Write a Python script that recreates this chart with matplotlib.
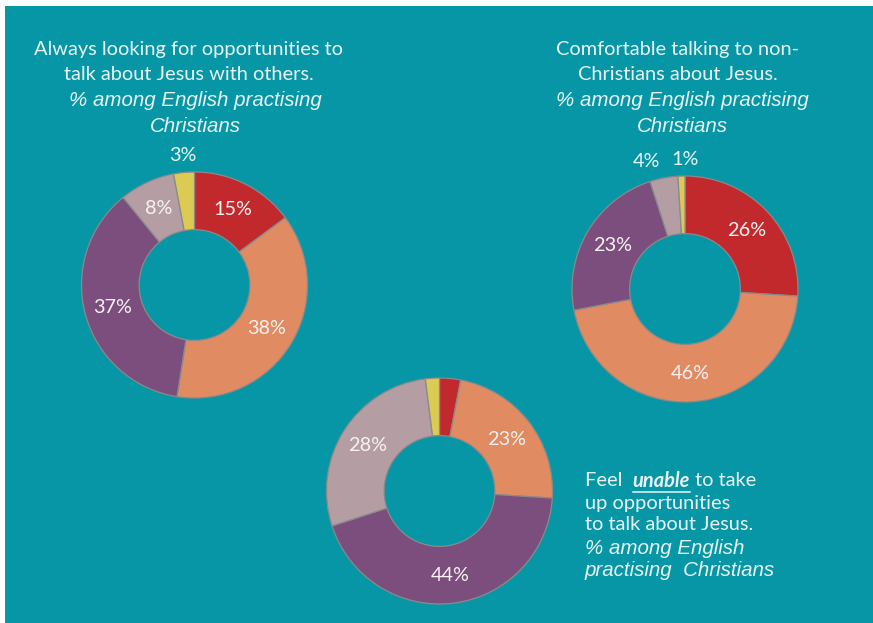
import matplotlib
matplotlib.use("Agg")
import matplotlib.pyplot as plt
import numpy as np
from matplotlib.patches import Rectangle

# ---------------- data ----------------
segments = ["Strongly agree", "Tend to agree", "Tend to disagree", "Strongly disagree", "Don't know"]
always_looking = [15, 38, 37, 8, 3]
comfortable = [26, 46, 23, 4, 1]
unable = [3, 23, 44, 28, 2]
label_always = ["15%", "38%", "37%", "8%", "3%"]
label_comfortable = ["26%", "46%", "23%", "4%", "1%"]
label_unable = ["", "23%", "44%", "28%", ""]

title1 = ["Always looking for opportunities to", "talk about Jesus with others."]
title2 = ["Comfortable talking to non-", "Christians about Jesus."]
subtitle = ["% among English practising", "Christians"]
title3_lines = ["up opportunities", "to talk about Jesus."]
subtitle3 = ["% among English", "practising  Christians"]

# ---------------- style ----------------
W, H = 873, 623
TEAL = "#0796A6"
COLORS = ["#C1292D", "#E08B62", "#7C4E7E", "#B49EA3", "#DCCB52"]
EDGE = "#8a8a8a"
TXT = "#E8F4F4"

fig = plt.figure(figsize=(W / 100, H / 100), dpi=100)
fig.patch.set_facecolor("white")
ax = fig.add_axes([0, 0, 1, 1])
ax.set_axis_off()

ax.add_patch(Rectangle((5, 0), W - 5, H - 6, facecolor=TEAL, edgecolor="none", zorder=0))


def Y(y):
    return H - y


R = 113
donuts = [
    (always_looking, label_always, (194.5, 285), {4: (0, 0)}),
    (comfortable, label_comfortable, (685, 289), {3: (-14, 0), 4: (4, 0)}),
    (unable, label_unable, (439.5, 491), {}),
]

for vals, labs, (cx, cy), nudges in donuts:
    wedges, _ = ax.pie(vals, colors=COLORS, startangle=90, counterclock=False,
                       radius=R, center=(cx, Y(cy)),
                       wedgeprops=dict(width=R * 0.51, edgecolor=EDGE, linewidth=0.9))
    total = sum(vals)
    cum = 0
    for i, v in enumerate(vals):
        mid = 90 - (cum + v / 2) / total * 360
        cum += v
        if not labs[i]:
            continue
        small = v / total < 0.05
        r = R * (1.15 if small else 0.75)
        dx, dy = nudges.get(i, (0, 0))
        x = cx + r * np.cos(np.radians(mid)) + dx
        y = Y(cy) + r * np.sin(np.radians(mid)) + dy
        ax.text(x, y, labs[i], ha="center", va="center", fontsize=14.3,
                family="Lato", color="#F7F2F2" if not small else TXT)

ax.set_xlim(0, W)
ax.set_ylim(0, H)
ax.set_aspect("auto")

REG = dict(family="Lato", fontsize=14.4, color=TXT)
ITA = dict(family="Liberation Sans", style="italic", fontsize=14.8, color=TXT)

# title 1
for t, y in zip(title1, [49, 74]):
    ax.text(189, Y(y), t, ha="center", va="center", **REG)
for t, y in zip(subtitle, [101, 127]):
    ax.text(195, Y(y), t, ha="center", va="center", **ITA)
# title 2
for t, y in zip(title2, [49, 74]):
    ax.text(678, Y(y), t, ha="center", va="center", **REG)
for t, y in zip(subtitle, [101, 127]):
    ax.text(682, Y(y), t, ha="center", va="center", **ITA)

# title 3 with emphasized word
fig.canvas.draw()
renderer = fig.canvas.get_renderer()
inv = ax.transData.inverted()
t1 = ax.text(585, Y(481), "Feel  ", ha="left", va="center", **REG)
bb = t1.get_window_extent(renderer)
x1 = inv.transform((bb.x1, 0))[0]
t2 = ax.text(x1, Y(481), "unable", ha="left", va="center", family="Lato",
             fontsize=14.4, color=TXT, style="italic", weight="bold")
bb2 = t2.get_window_extent(renderer)
x2 = inv.transform((bb2.x1, 0))[0]
ax.plot([x1, x2], [Y(492), Y(492)], color=TXT, lw=1.1)
ax.text(x2, Y(481), " to take", ha="left", va="center", **REG)
for t, y in zip(title3_lines, [503, 525]):
    ax.text(585, Y(y), t, ha="left", va="center", **REG)
for t, y in zip(subtitle3, [548, 571]):
    ax.text(585, Y(y), t, ha="left", va="center", **ITA)

fig.savefig("out.png", dpi=100, facecolor=fig.get_facecolor())
